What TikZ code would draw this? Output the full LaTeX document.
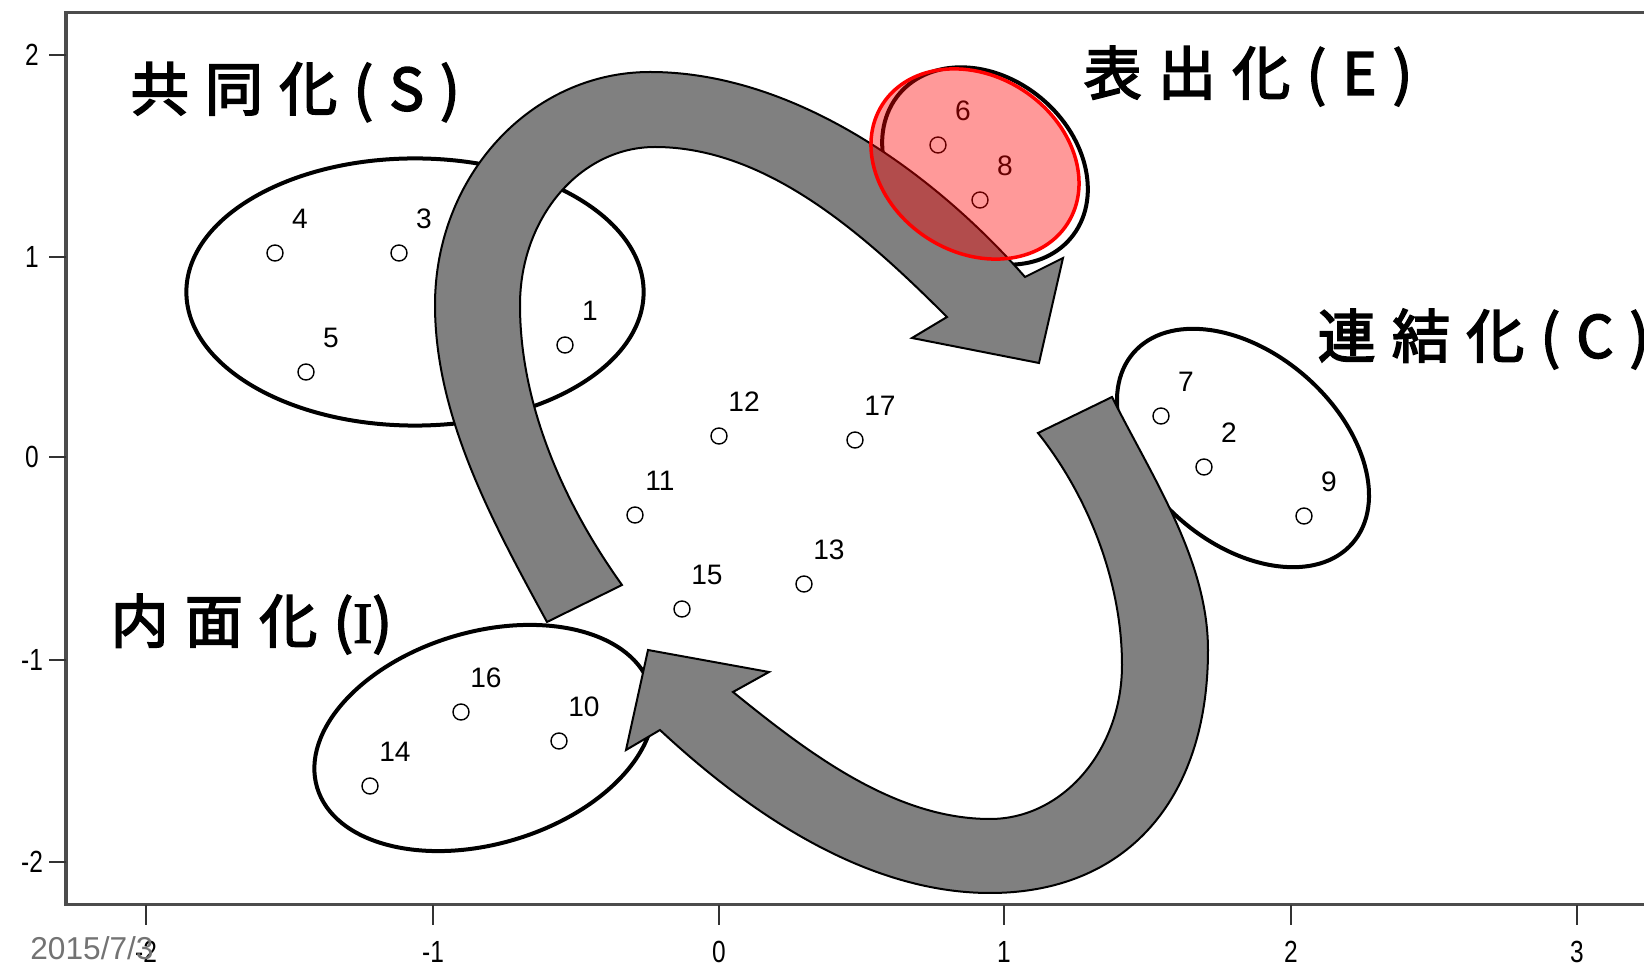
\documentclass[tikz,border=0pt]{standalone}
\usepackage{fontspec}
\setmainfont{Liberation Sans}
\newfontfamily\jpfont[FakeBold=3,LetterSpace=28]{Noto Sans CJK JP}
\newfontfamily\serifI[FakeBold=2]{Liberation Serif}
\usetikzlibrary{shapes.geometric}
\newcommand{\narrowtxt}[1]{\scalebox{0.8}[1]{#1}}
\tikzset{
  frame/.style={draw=black!70,line width=0.03cm},
  axtick/.style={draw=black!80,line width=0.02cm},
  ticklbl/.style={font=\fontsize{8.7}{10}\selectfont,inner sep=0pt},
  dot/.style={circle,draw,inner sep=0pt,minimum size=0.16cm,line width=0.4pt},
  num/.style={font=\fontsize{8}{9}\selectfont,inner sep=0pt},
  group/.style={ellipse,draw,fill=white,line width=0.04cm,inner sep=0pt},
  hilite/.style={ellipse,draw=red,fill=red,fill opacity=0.4,line width=0.035cm,
    inner sep=0pt},
  bigarrow/.style={fill=gray,draw=black,line width=0.02cm,line join=miter},
  phase/.style={font=\jpfont\fontsize{16.5}{18}\selectfont,anchor=west,inner sep=0pt}
}

\begin{document}
\begin{tikzpicture}[x=0.01cm,y=-0.01cm]
  \useasboundingbox (0,0) rectangle (1644,964);

  % plot frame and axes
  \draw[frame] (1644,13) -- (66,13) -- (66,905) -- (1644,905);
  \foreach \v/\y [count=\i] in {2/55,1/257,0/457,-1/660,-2/862} {
    \draw[axtick] (66,\y) -- (49,\y);
    \node[ticklbl] (ylab\i) at (32,\y) {\narrowtxt{\v}};
  }
  \foreach \v/\x [count=\i] in {-2/146,-1/433,0/719,1/1004,2/1291,3/1577} {
    \draw[axtick] (\x,905) -- (\x,925);
    \node[ticklbl] (xlab\i) at (\x,952) {\narrowtxt{\v}};
  }
  \node[font=\fontsize{9}{10}\selectfont,text=black!55,inner sep=0pt] (date)
    at (92,948) {2015/7/3};

  % groups
  \node[group,minimum width=4.57cm,minimum height=2.67cm] (grpS) at (415,292) {};
  \node[group,minimum width=2.24cm,minimum height=1.76cm,rotate=-40] (grpE) at (985,166) {};
  \node[group,minimum width=2.90cm,minimum height=1.90cm,rotate=-41] (grpC) at (1243,448) {};
  \node[group,minimum width=3.48cm,minimum height=2.12cm,rotate=16.5] (grpI) at (484,738) {};

  % S -> E arrow
  \filldraw[bigarrow] (547,622) .. controls (493,523) and (435,417) .. (435,305)
    .. controls (435,176) and (531,72) .. (650,72)
    .. controls (792,72) and (931,170) .. (1025,277)
    -- (1063,258) -- (1039,363) -- (912,338) -- (947,317)
    .. controls (867,237) and (768,147) .. (655,147)
    .. controls (580,147) and (520,218) .. (520,305)
    .. controls (520,405) and (564,504) .. (622,585) -- cycle;

  % C -> I arrow
  \filldraw[bigarrow] (1112,397) .. controls (1152,477) and (1208,560) .. (1208,650)
    .. controls (1208,801) and (1125,893) .. (990,893)
    .. controls (867,893) and (750,814) .. (660,730)
    -- (626,750) -- (648,650) -- (769,672) -- (733,692)
    .. controls (807,752) and (894,819) .. (990,819)
    .. controls (1063,819) and (1122,750) .. (1122,665)
    .. controls (1122,583) and (1089,497) .. (1038,433) -- cycle;

  % data points
  \foreach \n/\x/\y in {1/565/345,2/1204/467,3/399/253,4/275/253,5/306/372,
      6/938/145,7/1161/416,8/980/200,9/1304/516,10/559/741,11/635/515,
      12/719/436,13/804/584,14/370/786,15/682/609,16/461/712,17/855/440} {
    \node[dot] (p\n) at (\x,\y) {};
    \node[num] (n\n) at ([shift={(25,-34)}]p\n.center) {\n};
  }

  % highlighted group
  \node[hilite,minimum width=2.20cm,minimum height=1.76cm,rotate=-33] (hiE) at (975,164) {};

  % phase names
  \node[phase] (lblS) at (130,92) {共同化(S)};
  \node[phase] (lblE) at (1083,76) {表出化(E)};
  \node[phase] (lblC) at (1317,339) {連結化(C)};
  \node[phase] (lblI) at (110,624) {内面化({\serifI I})};
\end{tikzpicture}
\end{document}
